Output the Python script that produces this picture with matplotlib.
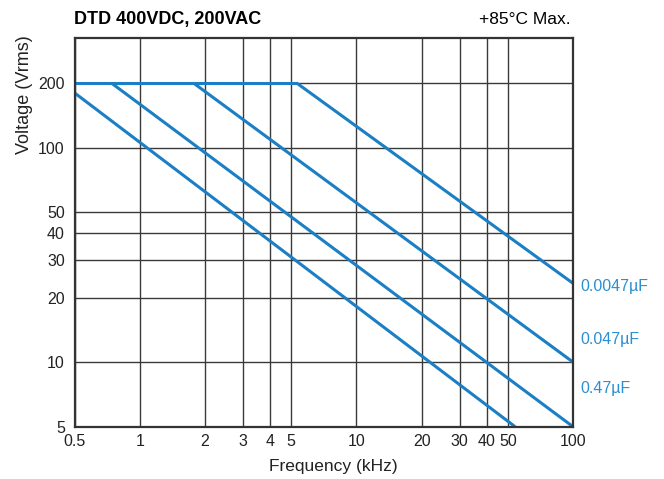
import numpy as np
import matplotlib.pyplot as plt
from matplotlib.ticker import FixedLocator, NullLocator, FixedFormatter

plt.rcParams['font.family'] = ['Liberation Sans', 'DejaVu Sans']

# rated voltage ceiling
v_max = 200
flat_f = [0.5, 5.3]

# derating lines: (start freq, end freq), (start volt, end volt)
curves = [
    ([0.5, 54], [180, 5]),
    ([0.74, 100], [200, 5]),
    ([1.77, 100], [200, 10]),
    ([5.3, 100], [200, 23.3]),
]
labels = ['0.0047µF', '0.047µF', '0.47µF']
label_v = [22.4, 12.7, 7.5]

x_ticks = [0.5, 1, 2, 3, 4, 5, 10, 20, 30, 40, 50, 100]
x_tick_labels = ['0.5', '1', '2', '3', '4', '5', '10', '20', '30', '40', '50', '100']
y_ticks = [5, 10, 20, 30, 40, 50, 100, 200]
y_tick_labels = ['5', '10', '20', '30', '40', '50', '100', '200']

blue = '#1a7fc4'
lblue = '#2b8fd2'

fig = plt.figure(figsize=(6.64, 4.79), dpi=100)
ax = fig.add_axes([0.1122, 0.1092, 0.7508, 0.8125])
ax.set_xscale('log')
ax.set_yscale('log')
ax.set_xlim(0.5, 100)
ax.set_ylim(5, 326)

ax.xaxis.set_major_locator(FixedLocator(x_ticks))
ax.xaxis.set_major_formatter(FixedFormatter(x_tick_labels))
ax.xaxis.set_minor_locator(NullLocator())
ax.yaxis.set_major_locator(FixedLocator(y_ticks))
ax.yaxis.set_major_formatter(FixedFormatter(y_tick_labels))
ax.yaxis.set_minor_locator(NullLocator())
ax.tick_params(axis='both', length=0, labelsize=11.5, colors='#222222')
ax.tick_params(axis='x', pad=5)
ax.tick_params(axis='y', pad=7)
ax.grid(True, color='#3a3a3a', lw=1.0)

for s in ax.spines.values():
    s.set_linewidth(1.6)
    s.set_color('#333333')

ax.plot(flat_f, [v_max, v_max], color=blue, lw=2.2, solid_capstyle='butt')
for f, v in curves:
    ax.plot(f, v, color=blue, lw=2.2, solid_capstyle='butt')

for lab, v in zip(labels, label_v):
    ax.text(1.015, v, lab, transform=ax.get_yaxis_transform(), color=lblue,
            fontsize=11.5, va='center', ha='left')

ax.text(0.519, -0.1035, 'Frequency (kHz)', transform=ax.transAxes,
        fontsize=12.5, ha='center', va='center', color='#222222')
ax.text(-0.101, 0.853, 'Voltage (Vrms)', transform=ax.transAxes, rotation=90,
        fontsize=13, ha='center', va='center', color='#222222')

fig.text(0.111, 0.959, 'DTD 400VDC, 200VAC', fontsize=13, fontweight='bold',
         ha='left', va='center')
fig.text(0.859, 0.959, '+85°C Max.', fontsize=12.5, ha='right', va='center')

fig.savefig('out.png', dpi=100)
